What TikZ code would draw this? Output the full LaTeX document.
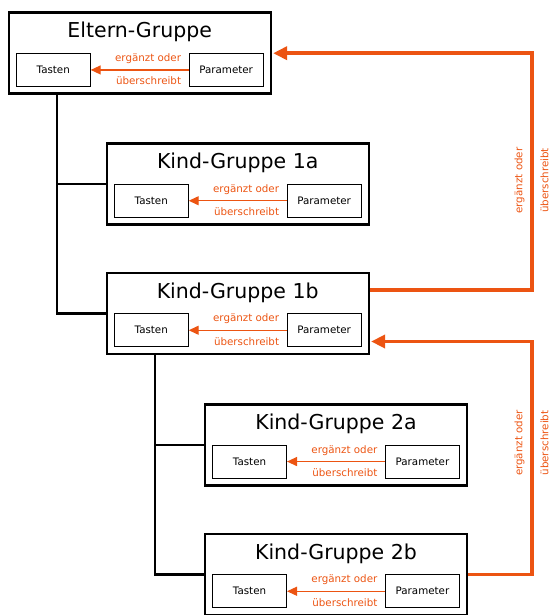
\documentclass[tikz,border=0pt]{standalone}
\usepackage{fontspec}
\setmainfont{DejaVu Sans}
\usetikzlibrary{arrows.meta, positioning, calc}
\definecolor{hinweisorange}{RGB}{236,84,18}

\begin{document}
\begin{tikzpicture}[x=1pt, y=-1pt,
    grp/.style={draw, line width=2.4pt, minimum width=262pt, minimum height=81pt, inner sep=0pt},
    titel/.style={anchor=base, font=\fontsize{20.5}{24}\selectfont},
    taste/.style={draw, line width=0.9pt, minimum width=74pt, minimum height=33pt, inner sep=0pt, font=\fontsize{10.3}{12}\selectfont},
    hinweis/.style={text=hinweisorange, inner sep=0pt, font=\fontsize{10.3}{12}\selectfont},
    pfeil/.style={draw=hinweisorange, line width=1.3pt, -{Triangle[length=10pt,width=9pt]}},
    vererb/.style={draw=hinweisorange, line width=3.5pt, -{Triangle[length=14pt,width=13pt]}, shorten >=1.2pt},
    ast/.style={line width=2.4pt}]
  \useasboundingbox (0,0) rectangle (551,615);

  % Gruppen
  \node[grp] (eltern) at (139.7,53.2) {};
  \node[grp] (k1a) at (237.7,184) {};
  \node[grp] (k1b) at (237.7,313.5) {};
  \node[grp] (k2a) at (336,444.8) {};
  \node[grp] (k2b) at (336,574.5) {};

  \node[titel] (eltern-t) at ([yshift=-26.5pt]eltern.north) {Eltern-Gruppe};
  \node[titel] (k1a-t) at ([yshift=-26.5pt]k1a.north) {Kind-Gruppe 1a};
  \node[titel] (k1b-t) at ([yshift=-26.5pt]k1b.north) {Kind-Gruppe 1b};
  \node[titel] (k2a-t) at ([yshift=-26.5pt]k2a.north) {Kind-Gruppe 2a};
  \node[titel] (k2b-t) at ([yshift=-26.5pt]k2b.north) {Kind-Gruppe 2b};

  % Tasten und Parameter
  \node[taste, anchor=south west] (eltern-ta) at ([shift={(8.3pt,8pt)}]eltern.south west) {Tasten};
  \node[taste, anchor=south east] (eltern-pa) at ([shift={(-8.3pt,8pt)}]eltern.south east) {Parameter};
  \node[taste, anchor=south west] (k1a-ta) at ([shift={(8.3pt,8pt)}]k1a.south west) {Tasten};
  \node[taste, anchor=south east] (k1a-pa) at ([shift={(-8.3pt,8pt)}]k1a.south east) {Parameter};
  \node[taste, anchor=south west] (k1b-ta) at ([shift={(8.3pt,8pt)}]k1b.south west) {Tasten};
  \node[taste, anchor=south east] (k1b-pa) at ([shift={(-8.3pt,8pt)}]k1b.south east) {Parameter};
  \node[taste, anchor=south west] (k2a-ta) at ([shift={(8.3pt,8pt)}]k2a.south west) {Tasten};
  \node[taste, anchor=south east] (k2a-pa) at ([shift={(-8.3pt,8pt)}]k2a.south east) {Parameter};
  \node[taste, anchor=south west] (k2b-ta) at ([shift={(8.3pt,8pt)}]k2b.south west) {Tasten};
  \node[taste, anchor=south east] (k2b-pa) at ([shift={(-8.3pt,8pt)}]k2b.south east) {Parameter};

  \draw[pfeil] (eltern-pa) -- (eltern-ta)
    node[hinweis, pos=0, anchor=base east, xshift=-7pt, yshift=8.5pt] {ergänzt oder}
    node[hinweis, pos=0, anchor=base east, xshift=-7pt, yshift=-15pt] {überschreibt};
  \draw[pfeil] (k1a-pa) -- (k1a-ta)
    node[hinweis, pos=0, anchor=base east, xshift=-7pt, yshift=8.5pt] {ergänzt oder}
    node[hinweis, pos=0, anchor=base east, xshift=-7pt, yshift=-15pt] {überschreibt};
  \draw[pfeil] (k1b-pa) -- (k1b-ta)
    node[hinweis, pos=0, anchor=base east, xshift=-7pt, yshift=8.5pt] {ergänzt oder}
    node[hinweis, pos=0, anchor=base east, xshift=-7pt, yshift=-15pt] {überschreibt};
  \draw[pfeil] (k2a-pa) -- (k2a-ta)
    node[hinweis, pos=0, anchor=base east, xshift=-7pt, yshift=8.5pt] {ergänzt oder}
    node[hinweis, pos=0, anchor=base east, xshift=-7pt, yshift=-15pt] {überschreibt};
  \draw[pfeil] (k2b-pa) -- (k2b-ta)
    node[hinweis, pos=0, anchor=base east, xshift=-7pt, yshift=8.5pt] {ergänzt oder}
    node[hinweis, pos=0, anchor=base east, xshift=-7pt, yshift=-15pt] {überschreibt};

  % Baum
  \coordinate (eltern-ab) at ([xshift=49.6pt]eltern.south west);
  \coordinate (k1b-ab) at ([xshift=49.3pt]k1b.south west);
  \draw[ast] (eltern-ab) |- (k1b.west);
  \draw[ast] (eltern-ab |- k1a.west) -- (k1a.west);
  \draw[ast] (k1b-ab) |- (k2b.west);
  \draw[ast] (k1b-ab |- k2a.west) -- (k2a.west);

  % Vererbung
  \coordinate (rechts) at (532,0);
  \coordinate (k1b-aus) at ([yshift=23.5pt]k1b.east);
  \coordinate (k1b-ein) at ([yshift=-28pt]k1b.east);
  \draw[vererb] (k1b-aus) -- (k1b-aus -| rechts) |- (eltern.east);
  \draw[vererb] (k2b.east) -- (k2b.east -| rechts) |- (k1b-ein);

  \node[hinweis, rotate=90] (v1-o) at (519.5,180.5) {ergänzt oder};
  \node[hinweis, rotate=90] (v1-u) at (544.5,180.5) {überschreibt};
  \node[hinweis, rotate=90] (v2-o) at (519.5,443) {ergänzt oder};
  \node[hinweis, rotate=90] (v2-u) at (544.5,443) {überschreibt};
\end{tikzpicture}
\end{document}
